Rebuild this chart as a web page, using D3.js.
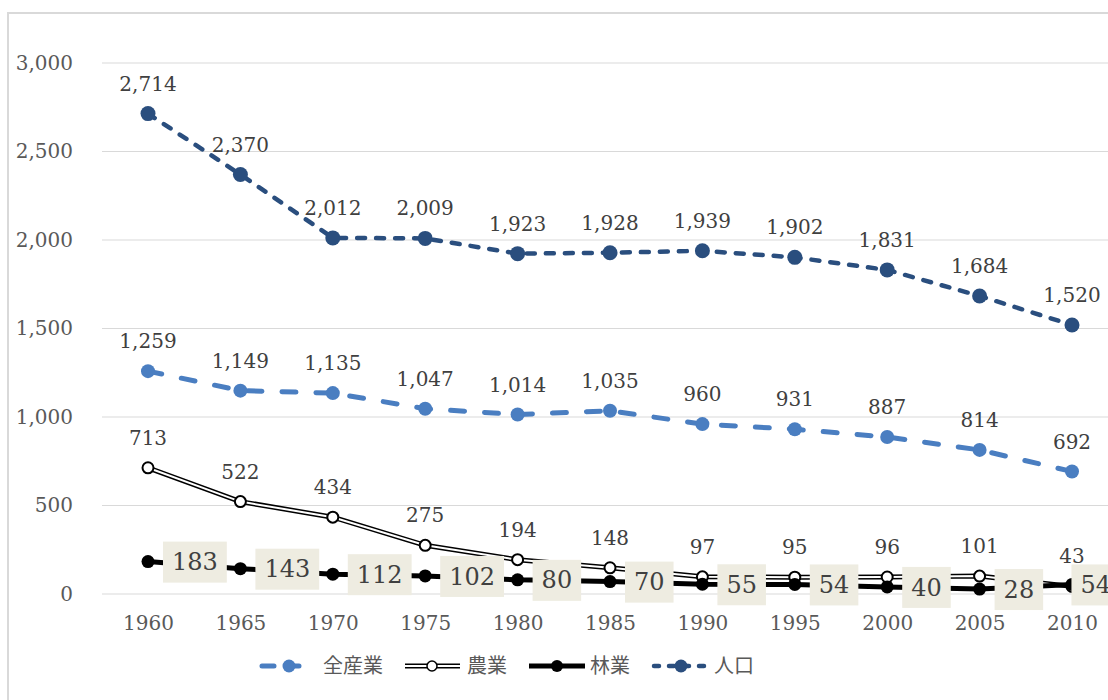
<!DOCTYPE html>
<html>
<head>
<meta charset="utf-8">
<script src="https://cdn.jsdelivr.net/npm/d3@7"></script>
<style>
  body { margin: 0; background: #fff; }
  svg { display: block; }
</style>
</head>
<body>
<svg id="chart" width="1108" height="700"></svg>
<script>
var years = ["1960","1965","1970","1975","1980","1985","1990","1995","2000","2005","2010"];
var zensangyo = [1259,1149,1135,1047,1014,1035,960,931,887,814,692];
var nogyo = [713,522,434,275,194,148,97,95,96,101,43];
var ringyo = [183,143,112,102,80,70,55,54,40,28,54];
var jinko = [2714,2370,2012,2009,1923,1928,1939,1902,1831,1684,1520];
var yTicks = [0,500,1000,1500,2000,2500,3000];
var seriesNames = ["全産業","農業","林業","人口"];

var svg = d3.select("#chart");
var numFont = "'DejaVu Serif', serif",
    jpFont = "'Noto Sans CJK JP', sans-serif",
    grey = "#595959";

var x = d3.scalePoint().domain(years).range([148, 1072]),
    y = d3.scaleLinear().domain([0, 3000]).range([594, 63]);
var plotRight = 1120;

// outer chart border (runs off the right/bottom edge)
svg.append("rect")
    .attr("x", 8).attr("y", 13)
    .attr("width", 1200).attr("height", 800)
    .attr("fill", "none")
    .attr("stroke", "#d9d9d9")
    .attr("stroke-width", 2);

// gridlines
svg.append("g").selectAll("line")
  .data(yTicks)
  .enter().append("line")
    .attr("x1", 102).attr("x2", plotRight)
    .attr("y1", function(d) { return y(d); })
    .attr("y2", function(d) { return y(d); })
    .attr("stroke", "#d9d9d9")
    .attr("stroke-width", 1);

// y axis labels
var yAxis = svg.append("g")
    .attr("transform", "translate(73,0)")
    .call(d3.axisLeft(y).tickValues(yTicks).tickFormat(d3.format(",")).tickSize(0).tickPadding(0));
yAxis.select(".domain").remove();
yAxis.selectAll("text")
    .attr("font-family", numFont)
    .attr("font-size", 20)
    .attr("fill", grey);

// x axis labels
var xAxis = svg.append("g")
    .attr("transform", "translate(0,616)")
    .call(d3.axisBottom(x).tickSize(0).tickPadding(0));
xAxis.select(".domain").remove();
xAxis.selectAll("text")
    .attr("font-family", numFont)
    .attr("font-size", 20)
    .attr("fill", grey);

function pts(vals) {
  return vals.map(function(v, i) { return {year: years[i], value: v}; });
}
var line = d3.line()
    .x(function(d) { return x(d.year); })
    .y(function(d) { return y(d.value); });

var plot = svg.append("g");

// 全産業
plot.append("path")
    .attr("d", line(pts(zensangyo)))
    .attr("fill", "none")
    .attr("stroke", "#4a7ec1")
    .attr("stroke-width", 5)
    .attr("stroke-linecap", "round")
    .attr("stroke-dasharray", "14,20");
plot.append("g").selectAll("circle")
  .data(pts(zensangyo))
  .enter().append("circle")
    .attr("cx", function(d) { return x(d.year); })
    .attr("cy", function(d) { return y(d.value); })
    .attr("r", 7)
    .attr("fill", "#4a7ec1");

// 農業 (double line)
plot.append("path")
    .attr("d", line(pts(nogyo)))
    .attr("fill", "none")
    .attr("stroke", "#000")
    .attr("stroke-width", 5);
plot.append("path")
    .attr("d", line(pts(nogyo)))
    .attr("fill", "none")
    .attr("stroke", "#fff")
    .attr("stroke-width", 2);
plot.append("g").selectAll("circle")
  .data(pts(nogyo))
  .enter().append("circle")
    .attr("cx", function(d) { return x(d.year); })
    .attr("cy", function(d) { return y(d.value); })
    .attr("r", 5.5)
    .attr("fill", "#fff")
    .attr("stroke", "#000")
    .attr("stroke-width", 2);

// 林業
plot.append("path")
    .attr("d", line(pts(ringyo)))
    .attr("fill", "none")
    .attr("stroke", "#000")
    .attr("stroke-width", 5);
plot.append("g").selectAll("circle")
  .data(pts(ringyo))
  .enter().append("circle")
    .attr("cx", function(d) { return x(d.year); })
    .attr("cy", function(d) { return y(d.value); })
    .attr("r", 6.5)
    .attr("fill", "#000");

// 人口
plot.append("path")
    .attr("d", line(pts(jinko)))
    .attr("fill", "none")
    .attr("stroke", "#2a4e7e")
    .attr("stroke-width", 4.5)
    .attr("stroke-linecap", "round")
    .attr("stroke-dasharray", "8,11");
plot.append("g").selectAll("circle")
  .data(pts(jinko))
  .enter().append("circle")
    .attr("cx", function(d) { return x(d.year); })
    .attr("cy", function(d) { return y(d.value); })
    .attr("r", 7.5)
    .attr("fill", "#2a4e7e");

// data labels above points
var fmt = d3.format(",");
[zensangyo, nogyo, jinko].forEach(function(vals) {
  plot.append("g").selectAll("text")
    .data(pts(vals))
    .enter().append("text")
      .attr("x", function(d) { return x(d.year); })
      .attr("y", function(d) { return y(d.value) - 23; })
      .attr("text-anchor", "middle")
      .attr("font-family", numFont)
      .attr("font-size", 20)
      .attr("fill", "#404040")
      .text(function(d) { return fmt(d.value); });
});

// 林業 labels: boxed, to the right (kept inside the plot area)
var rl = plot.append("g").selectAll("g")
  .data(pts(ringyo))
  .enter().append("g");
rl.append("text")
    .attr("text-anchor", "middle")
    .attr("dy", "0.36em")
    .attr("font-family", numFont)
    .attr("font-size", 24)
    .attr("fill", "#404040")
    .text(function(d) { return d.value; });
rl.each(function(d) {
  var g = d3.select(this),
      w = g.select("text").node().getComputedTextLength() + 18,
      left = Math.min(x(d.year) + 15, plotRight - w);
  g.attr("transform", "translate(" + (left + w / 2) + "," + y(d.value) + ")");
  g.insert("rect", "text")
      .attr("x", -w / 2).attr("y", -20)
      .attr("width", w).attr("height", 41)
      .attr("fill", "#eeece1");
});

// legend
var legendItems = [
  {name: seriesNames[0], tx: 323},
  {name: seriesNames[1], tx: 467},
  {name: seriesNames[2], tx: 590},
  {name: seriesNames[3], tx: 714}
];
var lg = svg.append("g").attr("transform", "translate(0,666)");
// 全産業 sample
lg.append("line").attr("x1", 262).attr("x2", 305).attr("y1", 0).attr("y2", 0)
    .attr("stroke", "#4a7ec1").attr("stroke-width", 5).attr("stroke-linecap", "round")
    .attr("stroke-dasharray", "12,13");
lg.append("circle").attr("cx", 289).attr("cy", 0).attr("r", 6.5).attr("fill", "#4a7ec1");
// 農業 sample
lg.append("line").attr("x1", 405).attr("x2", 460).attr("y1", 0).attr("y2", 0)
    .attr("stroke", "#000").attr("stroke-width", 5);
lg.append("line").attr("x1", 405).attr("x2", 460).attr("y1", 0).attr("y2", 0)
    .attr("stroke", "#fff").attr("stroke-width", 2);
lg.append("circle").attr("cx", 432).attr("cy", 0).attr("r", 5).attr("fill", "#fff")
    .attr("stroke", "#000").attr("stroke-width", 1.5);
// 林業 sample
lg.append("line").attr("x1", 529).attr("x2", 585).attr("y1", 0).attr("y2", 0)
    .attr("stroke", "#000").attr("stroke-width", 5);
lg.append("circle").attr("cx", 557).attr("cy", 0).attr("r", 6).attr("fill", "#000");
// 人口 sample
lg.append("line").attr("x1", 654).attr("x2", 708).attr("y1", 0).attr("y2", 0)
    .attr("stroke", "#2a4e7e").attr("stroke-width", 4.5).attr("stroke-linecap", "round")
    .attr("stroke-dasharray", "5,10");
lg.append("circle").attr("cx", 681).attr("cy", 0).attr("r", 6.5).attr("fill", "#2a4e7e");

lg.selectAll("text.lab")
  .data(legendItems)
  .enter().append("text")
    .attr("class", "lab")
    .attr("x", function(d) { return d.tx; })
    .attr("dy", "0.36em")
    .attr("font-family", jpFont)
    .attr("font-size", 20)
    .attr("fill", grey)
    .text(function(d) { return d.name; });
</script>
</body>
</html>
